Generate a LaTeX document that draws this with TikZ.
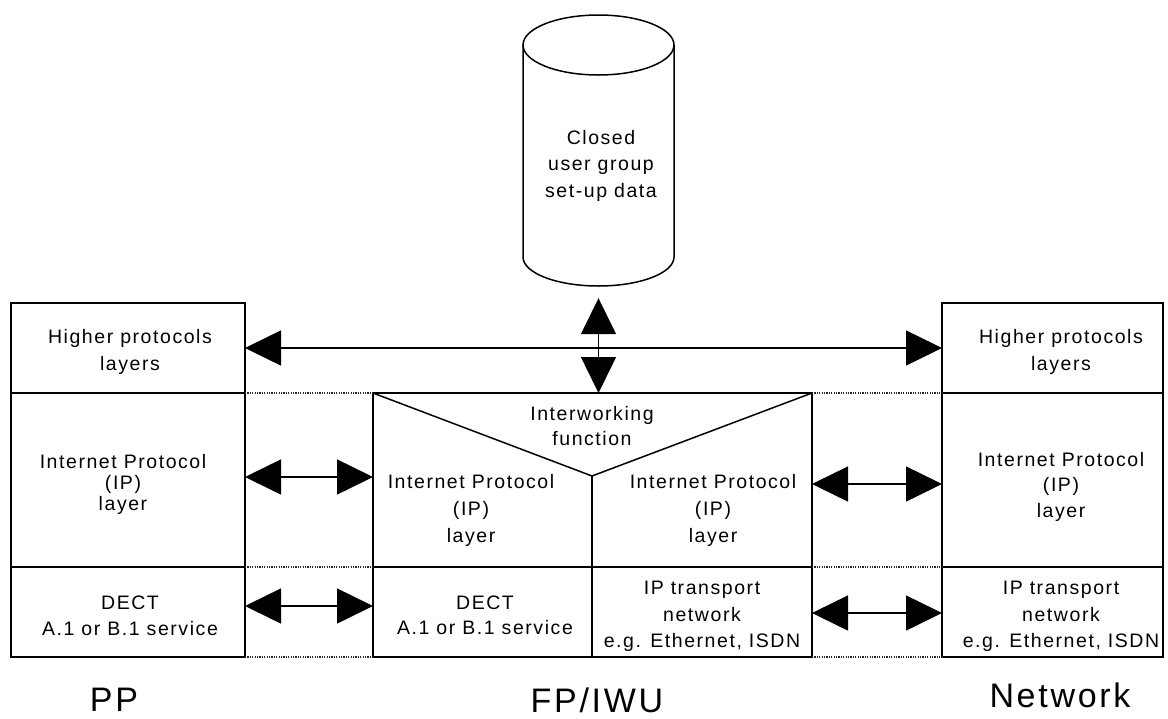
\documentclass[tikz,border=0pt]{standalone}
\usepackage{fontspec}
\setmainfont{Liberation Sans}[LetterSpace=8]
\usetikzlibrary{arrows.meta}
\begin{document}
\begin{tikzpicture}[x=1pt,y=-1pt,
  box/.style={draw, line width=1.5pt, inner sep=0pt, outer sep=0pt},
  txt/.style={inner sep=0pt, align=center, font=\fontsize{19.5}{#1}\selectfont},
  big/.style={inner sep=0pt, anchor=base, font=\fontsize{34}{40}\selectfont},
  dbl/.style={line width=1.5pt, {Triangle[length=36pt,width=35pt]}-{Triangle[length=36pt,width=35pt]}},
  dots/.style={line width=1.2pt, dash pattern=on 1.2pt off 1.2pt, black!85},
  thick divider/.style={line width=2.4pt}]
\useasboundingbox (0,0) rectangle (1168,718);
% cylinder
\node[inner sep=0pt, minimum width=151pt, minimum height=270pt] (cyl) at (598.5,150) {};
\draw[line width=1.5pt] (598.5,45) ellipse [x radius=75.5, y radius=30];
\draw[line width=1.5pt] (523,45) -- (523,257) arc[start angle=180, end angle=0, x radius=75.5, y radius=29] -- (674,45);
\node[txt=26.5] (cyltxt) at (601,165.5) {Closed\\user group\\set-up data};
% left stack (PP)
\node[box, minimum width=234pt, minimum height=90pt] (pphl) at (128,348) {};
\node[box, minimum width=234pt, minimum height=174pt] (ppip) at (128,480) {};
\node[box, minimum width=234pt, minimum height=90pt] (ppdect) at (128,612) {};
\draw[thick divider] (ppip.south west) -- (ppip.south east);
\draw[thick divider] (ppdect.south west) -- (ppdect.south east);
% right stack (Network)
\node[box, minimum width=221pt, minimum height=90pt] (nwhl) at (1052.5,348) {};
\node[box, minimum width=221pt, minimum height=174pt] (nwip) at (1052.5,480) {};
\node[box, minimum width=221pt, minimum height=90pt] (nwtr) at (1052.5,612) {};
\draw[thick divider] (nwip.south west) -- (nwip.south east);
\draw[thick divider] (nwtr.south west) -- (nwtr.south east);
% middle (FP/IWU)
\node[box, minimum width=439pt, minimum height=174pt] (mip) at (592.5,480) {};
\node[box, minimum width=219pt, minimum height=90pt] (mdect) at (482.5,612) {};
\node[box, minimum width=220pt, minimum height=90pt] (mtr) at (702,612) {};
\coordinate (vapex) at (592,476);
\draw[line width=1.5pt] (mip.north west) -- (vapex) -- (mip.north east);
\draw[line width=1.5pt] (vapex) -- (mdect.north east);
\draw[thick divider] (mip.south west) -- (mip.south east);
\draw[thick divider] (mdect.south west) -- (mtr.south east);
% dotted alignment lines
\draw[dots] (ppip.north east) -- (mip.north west);
\draw[dots] (ppdect.north east) -- (mdect.north west);
\draw[dots] (ppdect.south east) -- (mdect.south west);
\draw[dots] (mip.north east) -- (nwip.north west);
\draw[dots] (mtr.north east) -- (nwtr.north west);
\draw[dots] (mtr.south east) -- (nwtr.south west);
% texts
\node[txt=27] (t1) at (130,351.5) {Higher protocols\\layers};
\node[txt=27] (t2) at (1061,351.5) {Higher protocols\\layers};
\node[txt=21] (t3) at (123,484) {Internet Protocol\\(IP)\\layer};
\node[txt=25.5] (t4) at (1061,486.5) {Internet Protocol\\(IP)\\layer};
\node[txt=25] (t5) at (592,426.5) {Interworking\\function};
\node[txt=27] (t6) at (471,510) {Internet Protocol\\(IP)\\layer};
\node[txt=27] (t7) at (713,510) {Internet Protocol\\(IP)\\layer};
\node[txt=26] (t8) at (130,616) {DECT\\A.1 or B.1 service};
\node[txt=25] (t9) at (485,615.5) {DECT\\A.1 or B.1 service};
\node[txt=26.5] (t10) at (702,616.5) {IP transport\\network\\e.g. Ethernet, ISDN};
\node[txt=26.5] (t11) at (1061,616.5) {IP transport\\network\\e.g. Ethernet, ISDN};
\node[big] (lpp) at (114,711) {PP};
\node[big] (lfp) at (597,712) {FP/IWU};
\node[big] (lnw) at (1060,707) {Network};
% arrows
\draw[dbl] (pphl.east) -- (nwhl.west);
\draw[dbl, shorten <=13pt] (cyl.south) -- (cyl.south |- mip.north);
\draw[dbl] ([yshift=3pt]ppip.east) -- ([yshift=3pt]ppip.east -| mip.west);
\draw[dbl] ([yshift=-4pt]mip.east) -- ([yshift=-4pt]mip.east -| nwip.west);
\draw[dbl] ([yshift=6pt]ppdect.east) -- ([yshift=6pt]ppdect.east -| mdect.west);
\draw[dbl] ([yshift=-1pt]mtr.east) -- ([yshift=-1pt]mtr.east -| nwtr.west);
\end{tikzpicture}
\end{document}
